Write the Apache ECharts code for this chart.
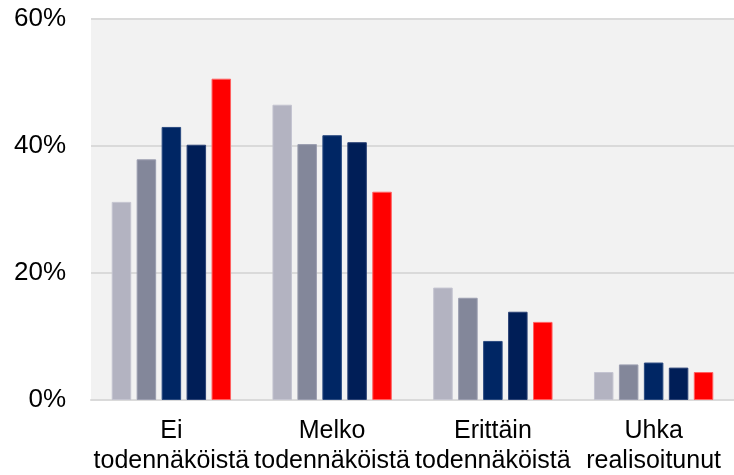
<!DOCTYPE html>
<html>
<head>
<meta charset="utf-8">
<script src="https://cdn.jsdelivr.net/npm/echarts@6/dist/echarts.min.js"></script>
<style>html,body{margin:0;padding:0;background:#fff}#c{width:734px;height:475px}</style>
</head>
<body>
<div id="c"></div>
<script>
const categories = ["Ei\ntodennäköistä", "Melko\ntodennäköistä", "Erittäin\ntodennäköistä", "Uhka\nrealisoitunut"];
const series1 = [31.2, 46.5, 17.7, 4.4];
const series2 = [37.9, 40.3, 16.1, 5.6];
const series3 = [43.0, 41.7, 9.3, 5.9];
const series4 = [40.2, 40.6, 13.9, 5.1];
const series5 = [50.6, 32.8, 12.3, 4.4];
const yTicks = [0, 20, 40, 60];

const colors = ["#b3b3c1", "#83879a", "#002664", "#001e57", "#ff0000"];
const borders = ["#c4c4d0", "#9a9daf", "#2a4a80", "#2a4275", "#ff6060"];
const allSeries = [series1, series2, series3, series4, series5];

const chart = echarts.init(document.getElementById('c'));
chart.setOption({
  animation: false,
  textStyle: { fontFamily: 'Liberation Sans' },
  grid: { left: 91, right: 0, top: 19, bottom: 75, show: true, backgroundColor: '#f2f2f2', borderWidth: 0, outerBoundsMode: 'none', containLabel: false },
  xAxis: {
    type: 'category',
    data: categories,
    axisTick: { show: false },
    axisLine: { show: true, lineStyle: { color: '#dadada', width: 2 } },
    axisLabel: { color: '#000', fontSize: 25, lineHeight: 30, margin: 16, interval: 0, fontFamily: 'Liberation Sans' }
  },
  yAxis: {
    type: 'value',
    min: yTicks[0],
    max: yTicks[yTicks.length - 1],
    interval: 20,
    axisLine: { show: false },
    axisTick: { show: false },
    splitLine: { lineStyle: { color: '#dadada', width: 2 } },
    axisLabel: { color: '#000', fontSize: 26, margin: 25, formatter: v => v + '%', fontFamily: 'Liberation Sans' }
  },
  series: allSeries.map((d, i) => ({
    type: 'bar',
    data: d,
    barWidth: 19.5,
    barGap: '28%',
    itemStyle: { color: colors[i], borderColor: borders[i], borderWidth: 1 }
  }))
});
</script>
</body>
</html>
